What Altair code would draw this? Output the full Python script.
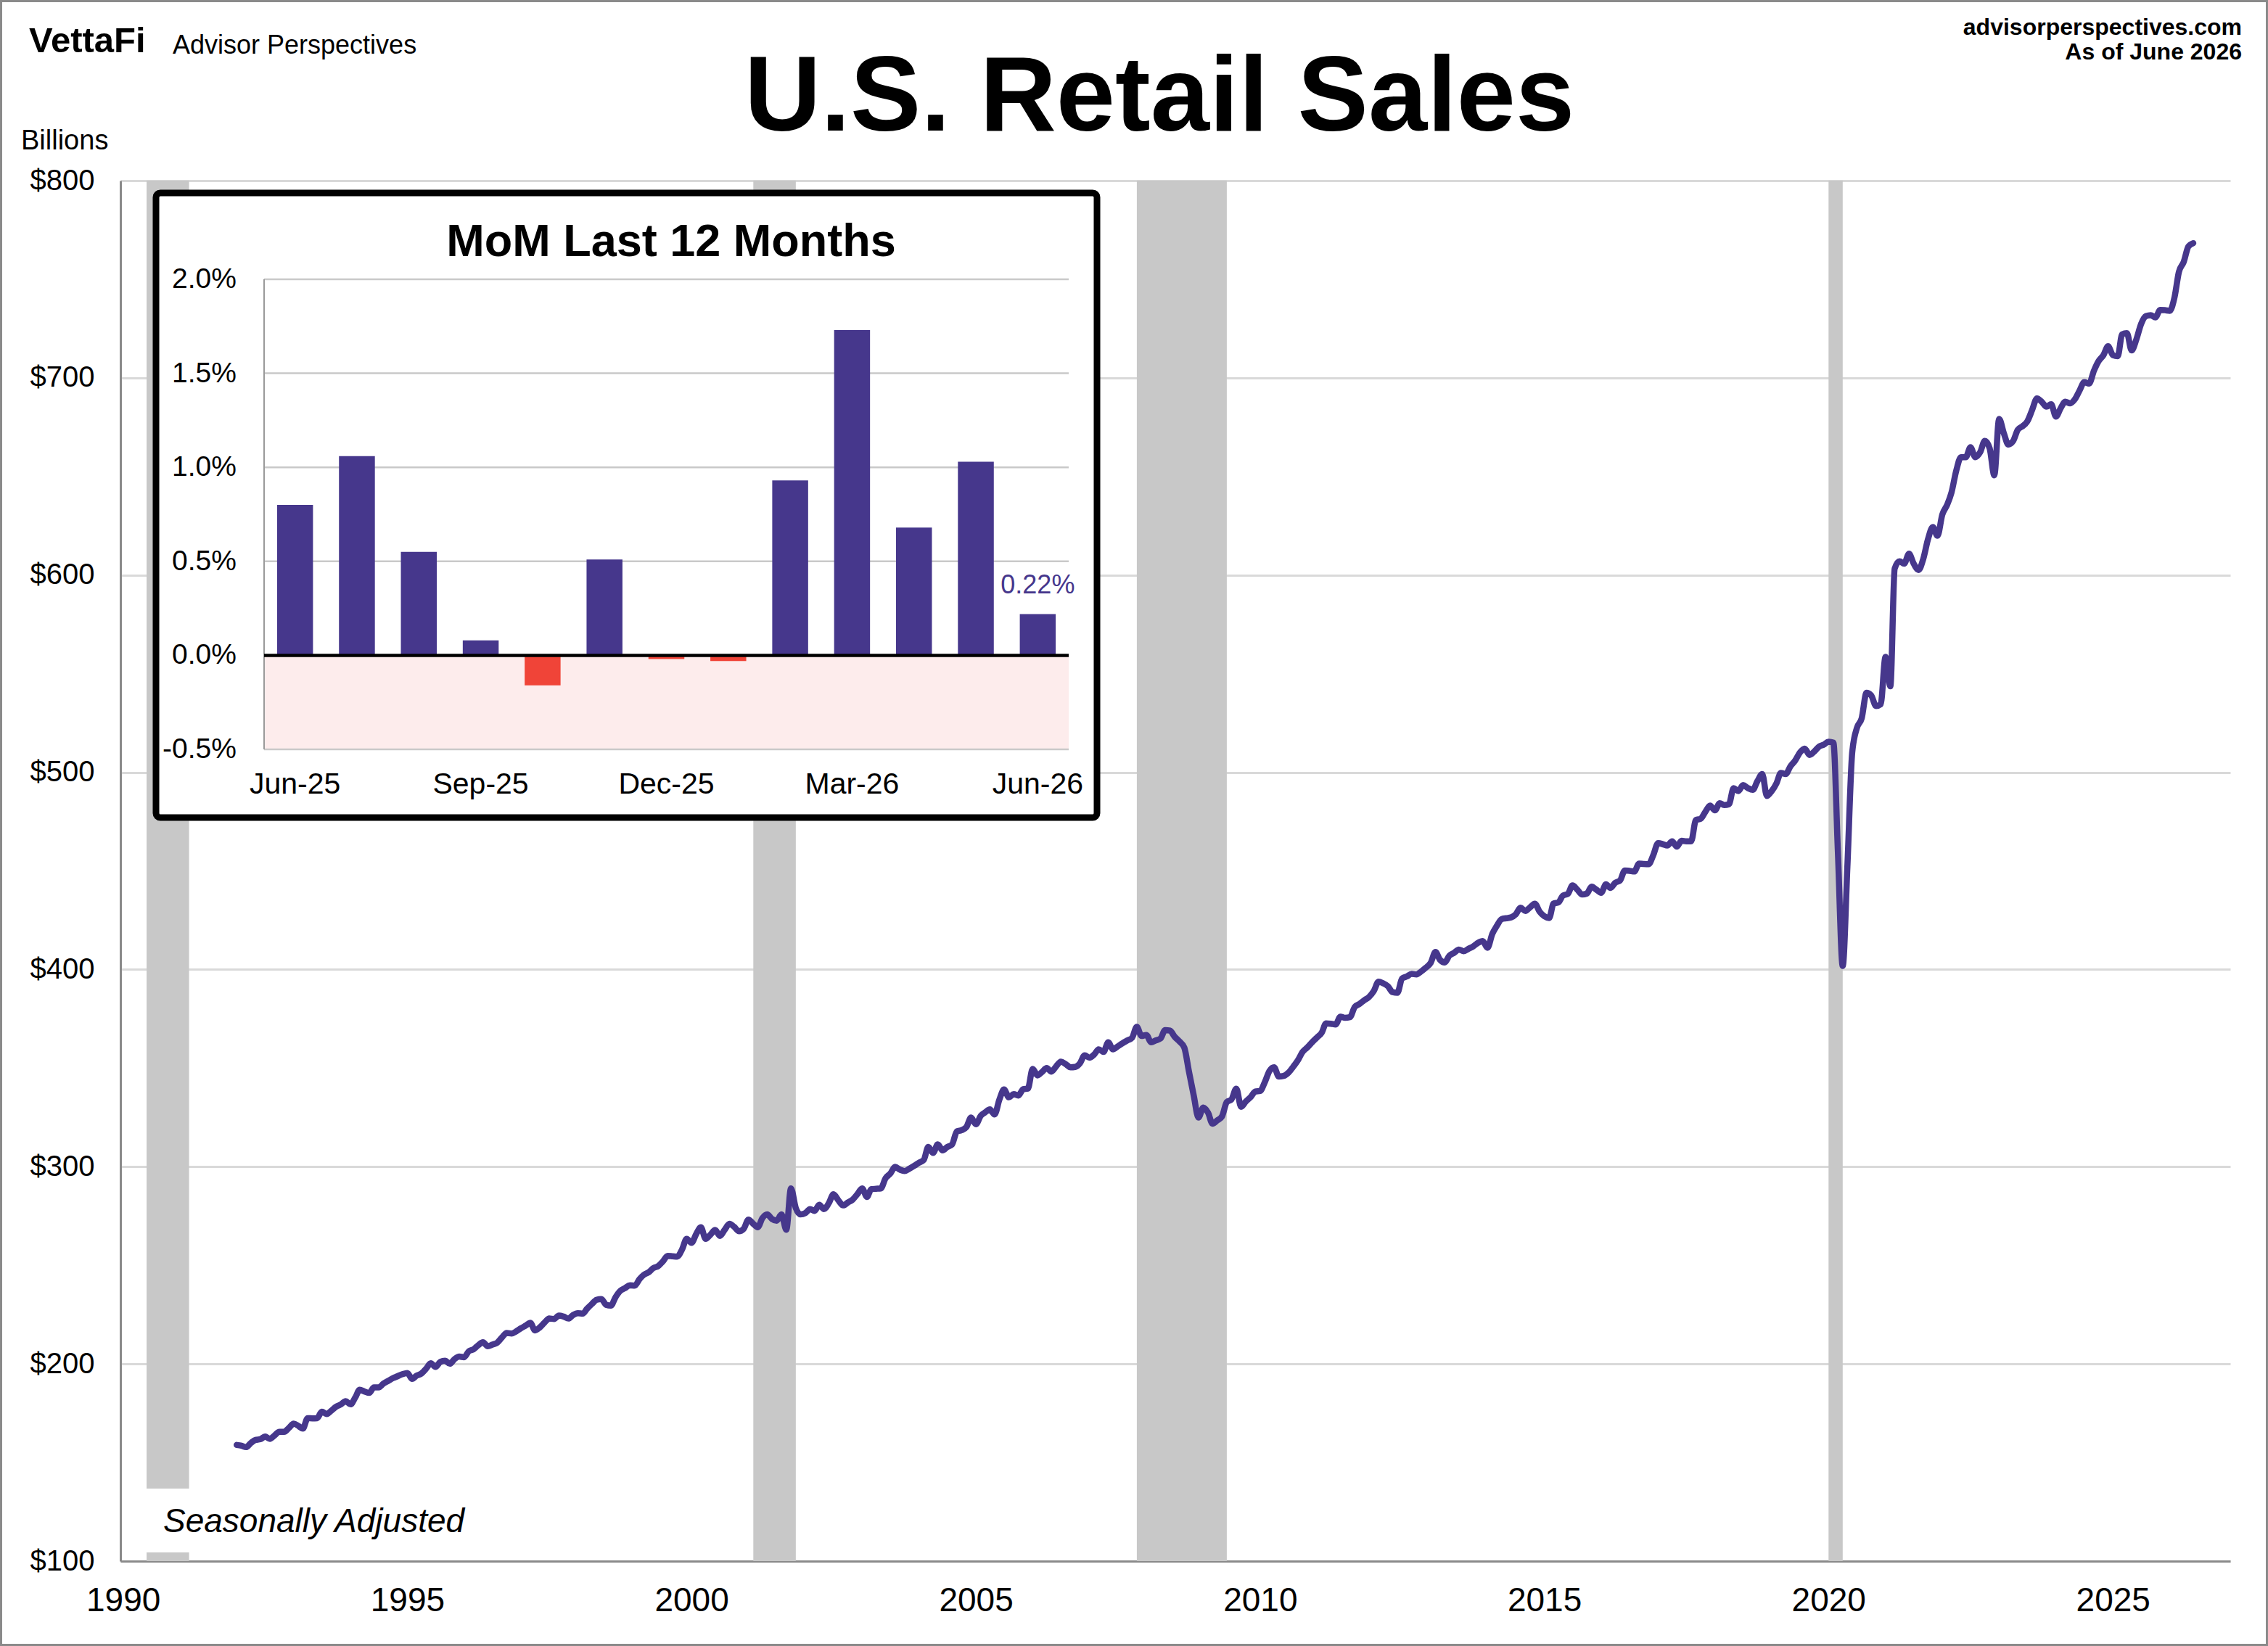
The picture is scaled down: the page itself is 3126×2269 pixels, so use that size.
import altair as alt
import pandas as pd

# ---------------------------------------------------------------- data
# Monthly U.S. retail sales, seasonally adjusted, $ billions (Jan 1992 onward)
sales_1990s = [
    158.9, 158.5, 157.8, 159.9, 161.5, 161.8, 163.2, 162.0, 163.8, 165.6, 165.6, 167.5,  # 1992
    169.7, 168.5, 167.2, 172.5, 172.4, 172.5, 175.8, 174.6, 176.4, 178.3, 179.5, 181.1,  # 1993
    179.5, 183.0, 186.9, 186.0, 185.3, 188.1, 188.1, 190.0, 191.4, 192.8, 193.8, 194.8,  # 1994
    195.4, 192.4, 194.0, 195.1, 197.5, 200.3, 198.5, 201.0, 201.6, 200.1, 202.5, 203.7,  # 1995
    203.4, 206.5, 207.4, 209.5, 211.0, 209.0, 209.8, 210.8, 213.5, 215.7, 215.4, 216.5,  # 1996
    218.1, 219.5, 220.8, 217.0, 218.5, 221.0, 223.0, 222.8, 224.5, 224.0, 223.0, 224.8,  # 1997
    225.7, 225.5, 228.0, 230.4, 232.5, 232.9, 230.0, 229.6, 234.0, 237.1, 238.5, 239.9,  # 1998
    239.7, 243.0, 245.2, 246.5, 248.6, 249.6, 252.0, 254.8, 254.6, 254.4, 258.0, 263.4,  # 1999
]
sales_2000s = [
    261.4, 266.0, 269.3, 263.4, 265.5, 267.9, 264.9, 268.0, 271.0, 269.5, 267.3, 268.5,  # 2000
    273.2, 271.0, 269.3, 274.0, 275.8, 273.5, 272.6, 275.8, 268.0, 289.0, 279.0, 275.8,  # 2001
    276.5, 278.5, 277.6, 280.7, 278.5, 281.5, 286.0, 283.0, 280.4, 281.8, 283.3, 286.0,  # 2002
    289.0, 284.7, 288.6, 288.8, 289.0, 294.2, 296.5, 299.9, 298.5, 297.8, 299.0, 300.4,  # 2003
    302.0, 303.4, 310.0, 307.0, 311.3, 308.3, 310.0, 311.3, 317.9, 318.5, 320.1, 324.9,  # 2004
    321.5, 325.8, 327.5, 329.1, 326.5, 334.0, 339.2, 335.2, 336.8, 336.1, 339.3, 339.6,  # 2005
    349.6, 346.3, 348.0, 350.0, 348.2, 350.9, 353.3, 352.0, 350.4, 350.6, 352.5, 356.5,  # 2006
    355.3, 357.0, 359.5, 358.2, 363.1, 359.5, 361.0, 362.6, 364.0, 365.3, 370.9, 366.3,  # 2007
    366.8, 363.1, 364.0, 365.0, 369.3, 369.0, 365.9, 363.5, 360.4, 348.2, 335.9, 324.9,  # 2008
    330.0, 327.3, 321.8, 323.5, 325.5, 332.8, 334.1, 339.6, 330.4, 333.0, 335.3, 338.1,  # 2009
]
sales_2010s = [
    338.4, 343.0, 348.4, 350.4, 345.7, 346.0, 347.6, 350.6, 354.0, 358.2, 360.5, 363.1,  # 2010
    365.5, 368.0, 372.7, 372.5, 372.1, 376.1, 375.5, 375.8, 381.0, 382.5, 384.4, 386.0,  # 2011
    389.0, 393.8, 393.0, 391.5, 388.5, 388.2, 395.4, 396.5, 397.8, 397.5, 399.0, 400.9,  # 2012
    403.4, 408.9, 405.0, 403.6, 407.0, 408.5, 410.1, 409.3, 410.5, 411.7, 413.5, 414.4,  # 2013
    411.0, 418.1, 422.0, 425.5, 426.0, 426.4, 427.9, 431.3, 429.7, 431.5, 433.4, 429.4,  # 2014
    427.0, 426.1, 433.4, 434.0, 437.5, 438.3, 442.6, 440.5, 438.0, 438.5, 442.0, 440.5,  # 2015
    438.9, 443.2, 441.4, 444.0, 445.1, 450.2, 450.0, 449.7, 453.7, 453.5, 453.4, 458.0,  # 2016
    464.1, 463.5, 462.9, 465.0, 462.3, 465.3, 465.0, 465.0, 475.8, 476.4, 480.0, 483.1,  # 2017
    480.7, 484.3, 483.4, 483.8, 491.9, 490.5, 493.5, 492.0, 491.1, 495.5, 499.1, 488.0,  # 2018
    490.5, 494.5, 499.7, 499.1, 503.0, 506.0, 510.0, 512.0, 508.8, 510.5, 513.0, 514.0,  # 2019
]
sales_2020s = [
    515.5, 515.0, 460.0, 401.8, 452.0, 510.0, 522.4, 527.4, 540.3, 539.0, 533.6, 534.5,  # 2020
    558.5, 543.6, 603.3, 607.0, 605.8, 610.8, 605.8, 602.6, 608.3, 618.2, 624.4, 619.9,  # 2021
    630.7, 635.6, 641.9, 653.1, 659.8, 659.8, 664.8, 659.8, 662.3, 668.0, 664.3, 650.6,  # 2022
    679.2, 671.7, 666.2, 668.0, 673.7, 675.5, 677.9, 683.7, 689.6, 687.9, 685.4, 686.6,  # 2023
    680.4, 684.7, 687.9, 687.1, 689.1, 693.6, 697.8, 697.1, 703.6, 708.5, 711.5, 716.0,  # 2024
    711.5, 711.0, 722.0, 722.7, 713.9, 719.6, 727.3, 731.3, 731.8, 730.7, 734.4, 734.3,  # 2025
    734.0, 740.9, 753.7, 758.8, 766.6, 768.3,                                            # 2026
]
first_year = 1992

# NBER recessions (shaded)
recession_start = ["1990-06-01", "2001-02-01", "2007-11-01", "2020-01-01"]
recession_end = ["1991-03-01", "2001-11-01", "2009-06-01", "2020-04-01"]

# Month-over-month change, last 12 months (%)
mom_months = ["Jun-25", "Jul-25", "Aug-25", "Sep-25", "Oct-25", "Nov-25", "Dec-25",
              "Jan-26", "Feb-26", "Mar-26", "Apr-26", "May-26", "Jun-26"]
mom_pct = [0.80, 1.06, 0.55, 0.08, -0.16, 0.51, -0.02, -0.03, 0.93, 1.73, 0.68, 1.03, 0.22]
mom_axis_months = ["Jun-25", "Sep-25", "Dec-25", "Mar-26", "Jun-26"]

y_ticks = [100, 200, 300, 400, 500, 600, 700, 800]
x_tick_years = [1990, 1995, 2000, 2005, 2010, 2015, 2020, 2025]
mom_ticks = [-0.5, 0.0, 0.5, 1.0, 1.5, 2.0]
mom_grid = [-0.5, 0.5, 1.0, 1.5, 2.0]

# ---------------------------------------------------------------- style
FONT = "Liberation Sans"
PURPLE = "#46378c"
RED = "#f04438"
PINK = "#fdecec"
SHADE = "#c8c8c8"
GRID = "#d9d9d9"
AXIS_GRAY = "#8a8a8a"

W, H = 2908, 1903
PAD = {"left": 166, "top": 249, "right": 52, "bottom": 117}

# inset plot rectangle (inside the main plot, pixels)
IX0, IX1 = 198, 1307
IY_TOP, IY_BOT = 136, 784

# ---------------------------------------------------------------- frames
values = sales_1990s + sales_2000s + sales_2010s + sales_2020s
months = [f"{first_year + i // 12}-{i % 12 + 1:02d}-01" for i in range(len(values))]
sales = pd.DataFrame({"date": months, "sales": values})
recessions = pd.DataFrame({"start": recession_start, "end": recession_end})
mom = pd.DataFrame({
    "month": mom_months,
    "pct": mom_pct,
    "tone": [PURPLE if v >= 0 else RED for v in mom_pct],
    "label": [f"{v:.2f}%" for v in mom_pct],
})
mom_y_labels = pd.DataFrame({"v": mom_ticks, "text": [f"{v:.1f}%" for v in mom_ticks]})
mom_x_labels = pd.DataFrame({"month": mom_axis_months})
one = pd.DataFrame({"k": [0]})

x_main = alt.Scale(
    type="utc",
    domain=[alt.DateTime(year=1989, month=12, date=15, utc=True),
            alt.DateTime(year=2027, month=1, date=25, utc=True)],
)
y_main = alt.Scale(domain=[100, 800], nice=False, zero=False)

x_axis = alt.Axis(
    values=[alt.DateTime(year=y, month=1, date=1, utc=True) for y in x_tick_years],
    format="%Y", labelFlush=False, labelOverlap=False, ticks=False, tickSize=0,
    labelPadding=54, labelBaseline="middle", labelFontSize=46, labelColor="black",
    domainColor=AXIS_GRAY, domainWidth=3, grid=False, title=None,
)
y_axis = alt.Axis(
    values=y_ticks, labelExpr="'$' + datum.value", labelFlush=False, labelOverlap=False,
    ticks=False, tickSize=0, labelPadding=36, labelFontSize=40, labelColor="black",
    domainColor=AXIS_GRAY, domainWidth=3, gridColor=GRID, gridWidth=3, title=None,
)


def label(text, x, y, size, weight="normal", align="left", baseline="middle",
          style="normal", color="black"):
    return alt.Chart(one).mark_text(
        text=text, fontSize=size, fontWeight=weight, align=align, baseline=baseline,
        fontStyle=style, color=color,
    ).encode(x=alt.value(x), y=alt.value(y))


# ---------------------------------------------------------------- main chart
shading = alt.Chart(recessions).mark_rect(color=SHADE).encode(
    x=alt.X("start:T", scale=x_main, axis=x_axis),
    x2="end:T",
)

note_box = alt.Chart(one).mark_rect(color="white").encode(
    x=alt.value(34), x2=alt.value(484), y=alt.value(1803), y2=alt.value(1891)
)
note = label("Seasonally Adjusted", 59, 1863, 46, baseline="alphabetic", style="italic")

line = alt.Chart(sales).mark_line(
    color=PURPLE, strokeWidth=8.5, interpolate="monotone", strokeCap="round",
    strokeJoin="round",
).encode(
    x=alt.X("date:T", scale=x_main, axis=x_axis),
    y=alt.Y("sales:Q", scale=y_main, axis=y_axis),
)

header = [
    label("U.S. Retail Sales", 1432, -69, 146, weight="bold", align="center",
          baseline="alphabetic"),
    label("VettaFi", -126, -192, 49, weight="bold"),
    label("Advisor Perspectives", 72, -186, 36),
    label("advisorperspectives.com", 2924, -211, 32, weight="bold", align="right"),
    label("As of June 2026", 2924, -177, 32, weight="bold", align="right"),
    label("Billions", -137, -54, 38),
]

main = alt.layer(shading, note_box, note, line, *header)

# ---------------------------------------------------------------- inset
x_mom = alt.Scale(domain=mom_months, range=[IX0, IX1], paddingInner=0.42, paddingOuter=0.21)
y_mom = alt.Scale(domain=[-0.5, 2.0], range=[IY_BOT, IY_TOP], nice=False, zero=False)

frame = alt.Chart(one).mark_rect(
    fill="white", stroke="black", strokeWidth=9, cornerRadius=6
).encode(x=alt.value(49), x2=alt.value(1346), y=alt.value(17), y2=alt.value(878))

neg_zone = alt.Chart(pd.DataFrame({"lo": [-0.5], "hi": [0.0]})).mark_rect(color=PINK).encode(
    x=alt.value(IX0), x2=alt.value(IX1),
    y=alt.Y("lo:Q", scale=y_mom, axis=None), y2="hi:Q",
)

mom_gridlines = alt.Chart(pd.DataFrame({"v": mom_grid})).mark_rule(
    color="#c9c9c9", strokeWidth=2.5
).encode(x=alt.value(IX0), x2=alt.value(IX1), y=alt.Y("v:Q", scale=y_mom, axis=None))

mom_domain = alt.Chart(pd.DataFrame({"lo": [-0.5], "hi": [2.0]})).mark_rule(
    color="#9a9a9a", strokeWidth=2
).encode(x=alt.value(IX0), y=alt.Y("lo:Q", scale=y_mom, axis=None), y2="hi:Q")

bars = alt.Chart(mom).mark_bar().encode(
    x=alt.X("month:N", sort=mom_months, scale=x_mom, axis=None),
    y=alt.Y("pct:Q", scale=y_mom, axis=None),
    color=alt.Color("tone:N", scale=None),
)

zero_line = alt.Chart(pd.DataFrame({"v": [0.0]})).mark_rule(
    color="black", strokeWidth=4.5
).encode(x=alt.value(IX0), x2=alt.value(IX1), y=alt.Y("v:Q", scale=y_mom, axis=None))

latest = alt.Chart(mom.tail(1)).mark_text(
    color=PURPLE, fontSize=36, dy=-39, baseline="middle", align="center"
).encode(
    x=alt.X("month:N", sort=mom_months, scale=x_mom, axis=None, bandPosition=0.5),
    y=alt.Y("pct:Q", scale=y_mom, axis=None),
    text="label:N",
)

y_tick_text = alt.Chart(mom_y_labels).mark_text(
    fontSize=39, align="right", baseline="middle", color="black"
).encode(x=alt.value(IX0 - 38), y=alt.Y("v:Q", scale=y_mom, axis=None), text="text:N")

x_tick_text = alt.Chart(mom_x_labels).mark_text(
    fontSize=41, align="center", baseline="middle", color="black"
).encode(
    x=alt.X("month:N", sort=mom_months, scale=x_mom, axis=None, bandPosition=0.5),
    y=alt.value(IY_BOT + 49), text="month:N",
)

mom_title = label("MoM Last 12 Months", 759, 104, 63, weight="bold", align="center",
                  baseline="alphabetic")

border = alt.Chart(one).mark_rect(
    fillOpacity=0, stroke="#8a8a8a", strokeWidth=3
).encode(x=alt.value(-164.5), x2=alt.value(2958.5), y=alt.value(-247.5), y2=alt.value(2018.5))

inset = alt.layer(frame, neg_zone, mom_gridlines, mom_domain, bars, zero_line, latest,
                  y_tick_text, x_tick_text, mom_title, border)

chart = (
    alt.layer(main, inset)
    .resolve_scale(x="independent", y="independent")
    .properties(width=W, height=H, padding=PAD,
                autosize=alt.AutoSizeParams(type="none"), background="white")
    .configure(font=FONT)
    .configure_view(strokeWidth=0)
)

chart.save("out.html", embed_options={"renderer": "svg", "actions": False})
